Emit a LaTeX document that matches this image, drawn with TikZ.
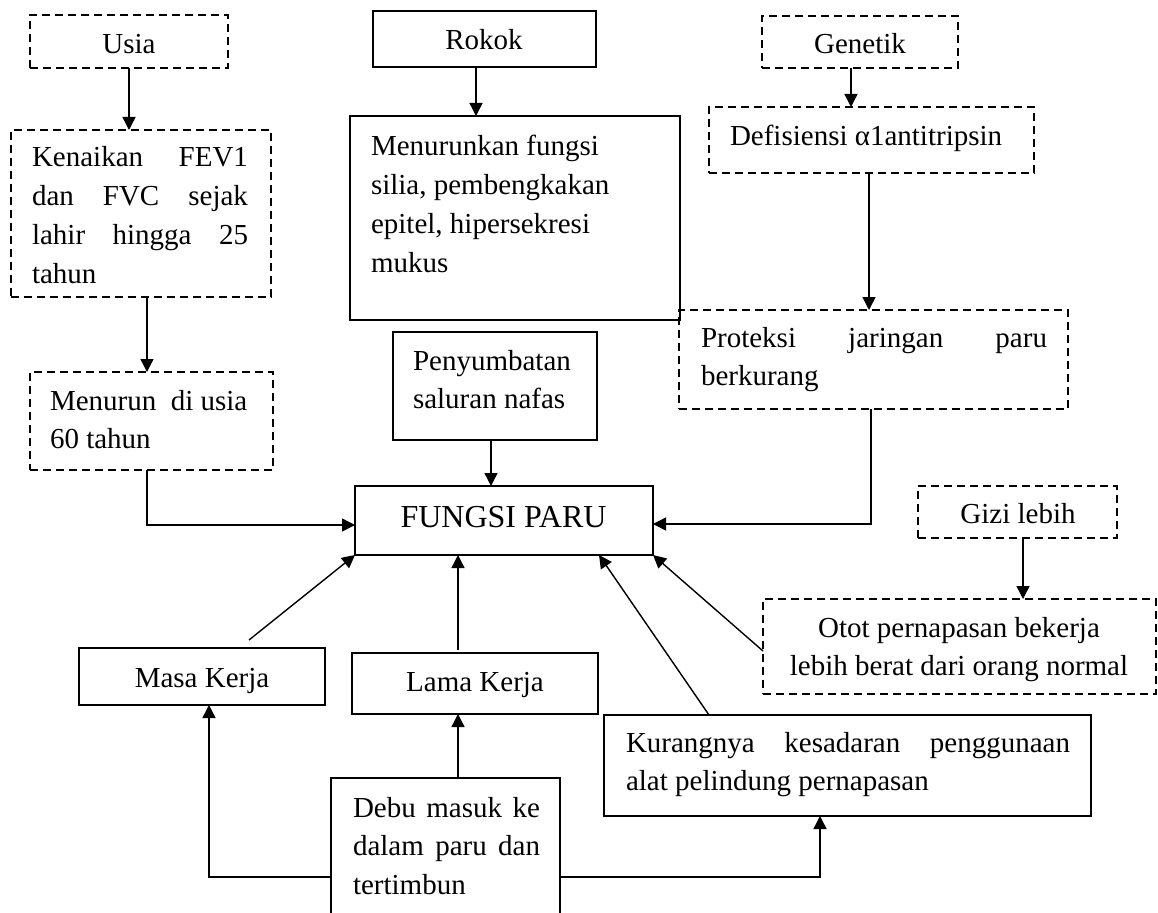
\documentclass[tikz,border=0pt]{standalone}
\usepackage{fontspec}
\setmainfont{Liberation Serif}
\usetikzlibrary{arrows.meta,calc}
\newcommand\jl[1]{\makebox[\linewidth][s]{#1}\\}
\begin{document}
\begin{tikzpicture}[x=1pt,y=-1pt,
  bx/.style={draw, line width=1.5pt, inner sep=0pt, outer sep=0pt, anchor=north west},
  dbx/.style={bx, dash pattern=on 8pt off 5pt},
  txt/.style={inner sep=0pt, outer sep=0pt, font=\fontsize{29}{38.7}\selectfont, anchor=base},
  arr/.style={line width=1.4pt, -{Triangle[length=13pt,width=13pt]}}]
\useasboundingbox (0,0) rectangle (1158,912);
\clip (0,0) rectangle (1158,912);
\fill[white] (0,0) rectangle (1158,912);
% boxes
\node[dbx, minimum width=198pt, minimum height=53pt] (usia) at (30,15) {};
\node[dbx, minimum width=260pt, minimum height=167pt] (kenaikan) at (11,130) {};
\node[dbx, minimum width=243pt, minimum height=98pt] (menurun) at (30,372) {};
\node[bx, minimum width=223pt, minimum height=56pt] (rokok) at (373,11) {};
\node[bx, minimum width=330pt, minimum height=204pt] (menurunkan) at (350,116) {};
\node[dbx, minimum width=196pt, minimum height=52pt] (genetik) at (762,16) {};
\node[dbx, minimum width=325pt, minimum height=66pt] (defisiensi) at (709,107) {};
\node[dbx, minimum width=389pt, minimum height=99pt] (proteksi) at (679,310) {};
\node[bx, minimum width=204pt, minimum height=108pt] (penyumbatan) at (393,332) {};
\node[bx, minimum width=298pt, minimum height=69pt] (fungsi) at (355,486) {};
\node[dbx, minimum width=199pt, minimum height=52pt] (gizi) at (918,486) {};
\node[dbx, minimum width=393pt, minimum height=95pt] (otot) at (763,599) {};
\node[bx, minimum width=246pt, minimum height=57pt] (masa) at (79,648) {};
\node[bx, minimum width=246pt, minimum height=61pt] (lama) at (352,653) {};
\node[bx, minimum width=487pt, minimum height=101pt] (kurang) at (604,715) {};
\node[bx, minimum width=229pt, minimum height=152pt] (debu) at (331,778) {};
% texts
\node[txt] (tusia) at (129,54) {Usia};
\node[txt, anchor=base west] (tkenaikan) at (32,167) {\parbox[t]{216pt}{\jl{Kenaikan FEV1}\jl{dan FVC sejak}\jl{lahir hingga 25}tahun}};
\node[txt, anchor=base west] (tmenurun) at (50,410) {\parbox[t]{220pt}{\raggedright Menurun\ \ di usia\\60 tahun}};
\node[txt] (trokok) at (484,50) {Rokok};
\node[txt, anchor=base west] (tmenurunkan) at (371,156) {\parbox[t]{300pt}{\raggedright Menurunkan fungsi\\silia, pembengkakan\\epitel, hipersekresi\\mukus}};
\node[txt] (tgenetik) at (860,54) {Genetik};
\node[txt, anchor=base west] (tdefisiensi) at (730,146) {Defisiensi α1antitripsin};
\node[txt, anchor=base west] (tproteksi) at (701,347) {\parbox[t]{346pt}{\jl{Proteksi jaringan paru}berkurang}};
\node[txt, anchor=base west] (tpenyumbatan) at (413,370) {\parbox[t]{180pt}{\raggedright Penyumbatan\\saluran nafas}};
\node[txt, font=\fontsize{32}{38}\selectfont] (tfungsi) at (503.5,527) {FUNGSI PARU};
\node[txt] (tgizi) at (1018,523) {Gizi lebih};
\node[txt] (totot) at (959,637) {\parbox[t]{380pt}{\centering Otot pernapasan bekerja\\lebih berat dari orang normal}};
\node[txt] (tmasa) at (202,687) {Masa Kerja};
\node[txt] (tlama) at (475,691) {Lama Kerja};
\node[txt, anchor=base west] (tkurang) at (626,752) {\parbox[t]{444pt}{\jl{Kurangnya kesadaran penggunaan}alat pelindung pernapasan}};
\node[txt, anchor=base west] (tdebu) at (353,817) {\parbox[t]{187pt}{\jl{Debu masuk ke}\jl{dalam paru dan}tertimbun}};
% connectors
\draw[arr] (usia.south) -- (usia.south |- kenaikan.north);
\draw[arr] ([xshift=6pt]kenaikan.south) -- ([xshift=6pt]kenaikan.south |- menurun.north);
\draw[arr] ([xshift=-4.5pt]menurun.south) |- ([yshift=-4.5pt]fungsi.west);
\draw[arr] ([xshift=-8.5pt]rokok.south) -- ([xshift=-8.5pt]rokok.south |- menurunkan.north);
\draw[arr] ([xshift=-9pt]genetik.south) -- ([xshift=-9pt]genetik.south |- defisiensi.north);
\draw[arr] ([xshift=-2.5pt]defisiensi.south) -- ([xshift=-2.5pt]defisiensi.south |- proteksi.north);
\draw[arr] ([xshift=-2.5pt]proteksi.south) |- ([yshift=-3.5pt]fungsi.east);
\draw[arr] ([xshift=-4pt]penyumbatan.south) -- ([xshift=-4pt]penyumbatan.south |- fungsi.north);
\draw[arr] ([xshift=5.5pt]gizi.south) -- ([xshift=5.5pt]gizi.south |- otot.north);
\draw[arr] ([xshift=47pt,yshift=8pt]masa.north) -- (fungsi.south west);
\draw[arr] ([xshift=-17pt,yshift=3pt]lama.north) -- ([xshift=-17pt]lama.north |- fungsi.south);
\draw[arr] ([yshift=-4.5pt]otot.west) -- (fungsi.south east);
\draw[arr] ([xshift=-138.5pt]kurang.north) -- ([xshift=95pt]fungsi.south);
\draw[arr] ([xshift=12.5pt]debu.north) -- ([xshift=12.5pt]debu.north |- lama.south);
\draw[arr] ([yshift=-23pt]debu.west) -| ([xshift=7pt]masa.south);
\draw[arr] ([yshift=-23pt]debu.east) -| ([xshift=-27.5pt]kurang.south);
\end{tikzpicture}
\end{document}
